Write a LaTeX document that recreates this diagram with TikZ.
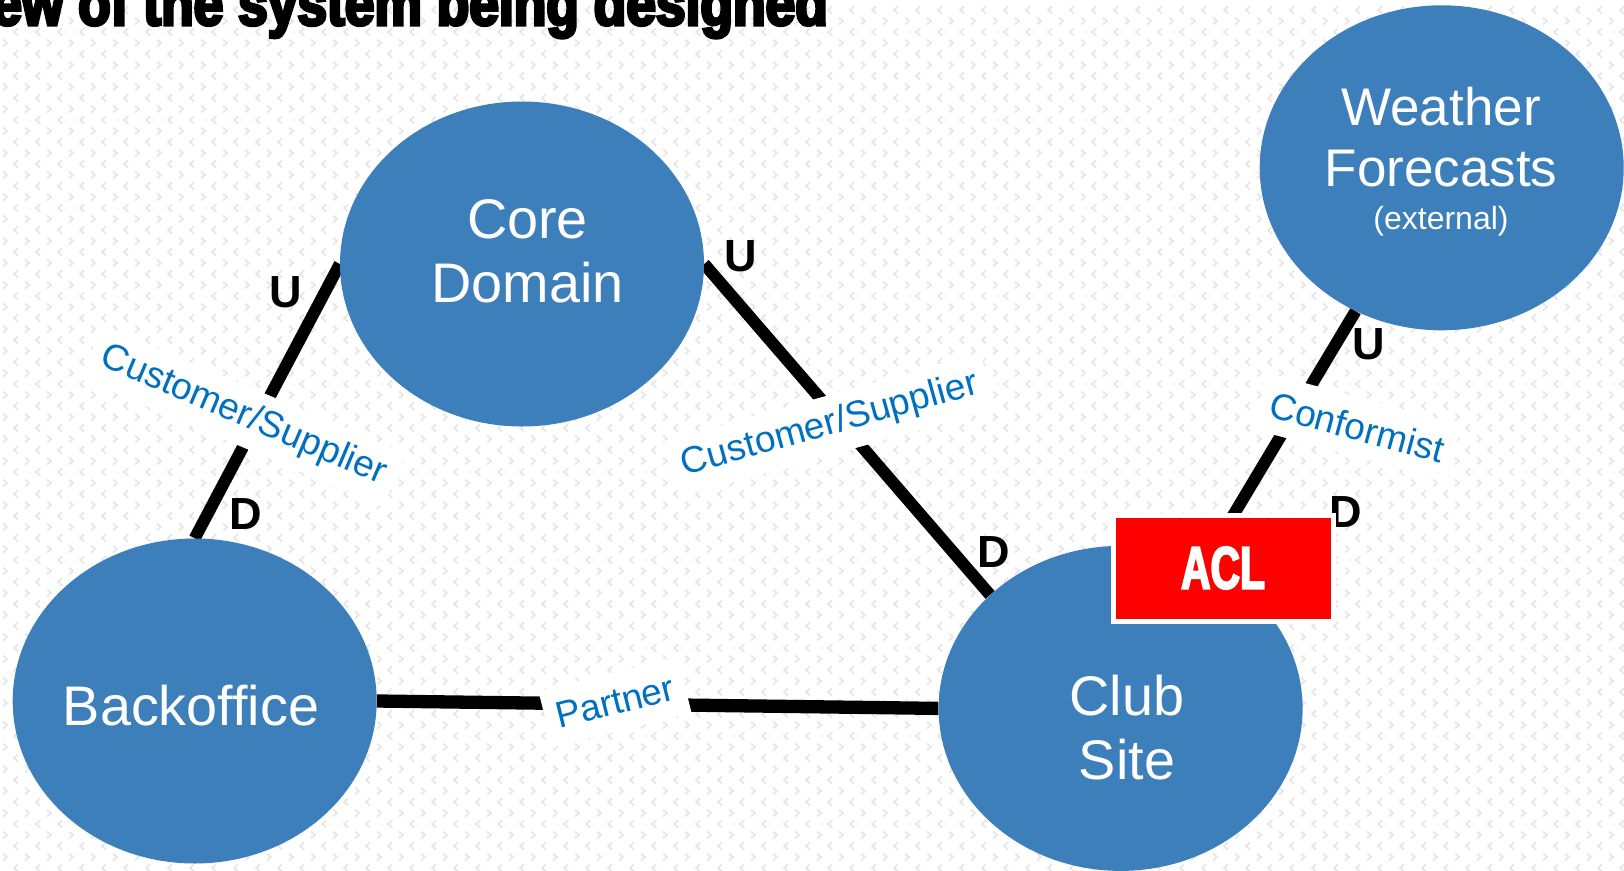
\documentclass[tikz,border=0pt]{standalone}
\usepackage{fontspec}
\setmainfont{Liberation Sans}
\newfontfamily\impactfont[FakeStretch=0.86,FakeBold=5]{Liberation Sans Bold}
\newfontfamily\aclfont[FakeStretch=0.68,FakeBold=3]{Liberation Sans Bold}
\usetikzlibrary{shapes.geometric}
\pgfdeclarelayer{under}
\pgfsetlayers{under,main}
\definecolor{ballblue}{HTML}{3C7FBA}
\definecolor{labelblue}{HTML}{0070C0}
\definecolor{chevron}{HTML}{E6E6E6}
\newcommand{\fsz}[2]{\fontsize{#1}{#2}\selectfont}
\tikzset{
  ball/.style={ellipse,draw=none,fill=ballblue,minimum width=364,minimum height=325,inner sep=0},
  balltext/.style={text=white,align=center,inner sep=0,font=\fsz{55.8}{64}},
  wxtext/.style={text=white,align=center,inner sep=0,font=\fsz{53}{61}},
  link/.style={draw=black,line width=12},
  rel/.style={fill=white,text=labelblue,inner xsep=11,inner ysep=0,minimum height=58,font=\fsz{37}{43}},
  ud/.style={text=black,inner sep=0,font=\bfseries\fsz{45}{50}},
  aclbox/.style={fill=red,draw=white,line width=5,minimum width=220,minimum height=106,inner sep=0,text=white,font=\aclfont\fsz{60}{64}},
  titletext/.style={text=black,inner sep=0,font=\impactfont\fsz{62}{70}},
}
\begin{document}
\begin{tikzpicture}[x=1pt,y=-1pt]
\useasboundingbox (0,0) rectangle (1624,870);
% discs
\node[ball] (core) at (522,264) {};
\node[ball] (back) at (194.7,701) {};
\node[ball] (club) at (1120.6,708.4) {};
\node[ball] (wx) at (1441.7,167.8) {};
\node[titletext,anchor=base east] (title) at (828,25) {ew of the system being designed};
\begin{pgfonlayer}{under}
\fill[white] (0,0) rectangle (1624,870);
\begin{scope}
\clip (0,0) rectangle (1624,870);
\draw[chevron,line width=1.7]
  \foreach \r in {0,...,39} {
    \foreach \c in {0,...,73} {
      ({5+22*\c-2},{21+22*\r-3.5}) -- ++(4,3.5) -- ++(-4,3.5)
      ({16+22*\c+2},{10+22*\r-3.5}) -- ++(-4,3.5) -- ++(4,3.5)
    }
  };
\end{scope}
% connectors
\draw[link] (core.west) -- (back.north);
\draw[link] (core.east) -- (club.139);
\draw[link,line width=13.3] (back.east) -- (club.west);
\draw[link] (wx.239) -- (club.60);
\end{pgfonlayer}
% disc texts
\node[balltext] (coreT) at (527.5,251.5) {Core\\Domain};
\node[balltext] (backT) at (191,706) {Backoffice};
\node[balltext] (clubT) at (1127,728) {Club\\Site};
\node[wxtext] (wxT) at (1441,137) {Weather\\Forecasts};
\node[text=white,inner sep=0,font=\fsz{32}{38}] (wxE) at (1441,221) {(external)};
% relationship labels
\node[rel,rotate=-23] (rel1) at (243.4,416) {Customer/Supplier};
\node[rel,rotate=15.5] (rel2) at (830,425) {Customer/Supplier};
\node[rel,rotate=14] (rel3) at (615,702) {Partner};
\node[rel,rotate=-15] (rel4) at (1357,427) {Conformist};
% U and D
\node[ud] (u1) at (286,292) {U};
\node[ud] (d1) at (245.5,514) {D};
\node[ud] (u2) at (741,256) {U};
\node[ud] (d2) at (994,552) {D};
\node[ud] (u3) at (1369,344) {U};
\node[ud] (d3) at (1346,512) {D};
% ACL
\node[aclbox] (acl) at (1223,568) {ACL};
\end{tikzpicture}
\end{document}
